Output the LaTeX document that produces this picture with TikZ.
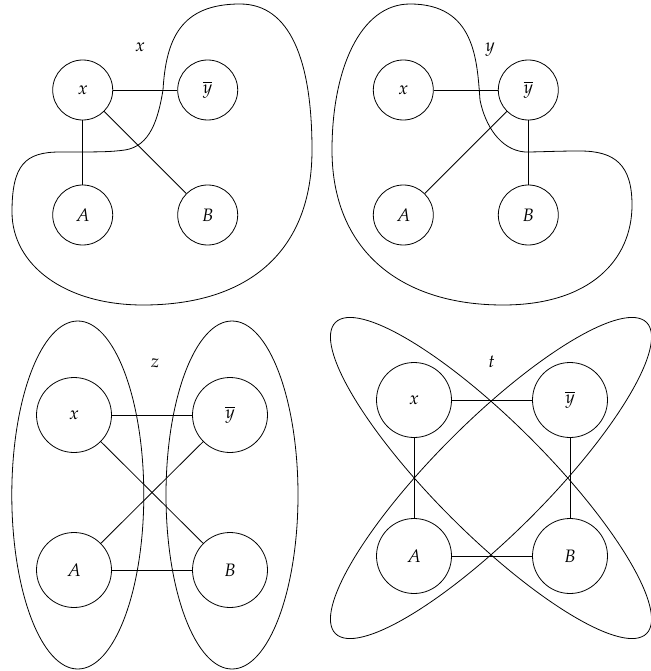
\documentclass[tikz,border=0pt]{standalone}
\usepackage{mathpazo}
\usetikzlibrary{calc}
\begin{document}
\begin{tikzpicture}[x=1pt,y=-1pt,
  vert/.style={circle,draw,line width=0.8pt,minimum size=60pt,inner sep=0pt,font=\fontsize{18}{22}\selectfont},
  bigvert/.style={vert,minimum size=75pt},
  lbl/.style={font=\fontsize{18}{22}\selectfont,inner sep=0pt},
  edge/.style={line width=0.8pt},
  blob/.style={line width=0.8pt}]
\useasboundingbox (0,0) rectangle (650,671);

% ---------- panel 1 ----------
\node[vert] (x1) at (82.7,90) {$x$};
\node[vert] (y1) at (207.7,90) {$\overline{y}$};
\node[vert] (a1) at (82.7,215) {$A$};
\node[vert] (b1) at (207.7,215) {$B$};
\node[lbl] (l1) at (140,47.7) {$x$};
\draw[edge] (x1) -- (y1);
\draw[edge] (x1) -- (a1);
\draw[edge] (x1) -- (b1);
\draw[blob] (240,4) .. controls (290,4) and (312,60) .. (312,150)
  .. controls (312,250) and (250,305) .. (143,305)
  .. controls (65,305) and (12,265) .. (12,212)
  .. controls (12,165) and (25,152) .. (60,152)
  .. controls (100,152) and (110,152) .. (125,150)
  .. controls (150,146) and (158,120) .. (163,90)
  .. controls (166,40) and (180,4) .. (240,4) -- cycle;

% ---------- panel 2 ----------
\node[vert] (x2) at (403.3,90) {$x$};
\node[vert] (y2) at (528.3,90) {$\overline{y}$};
\node[vert] (a2) at (403.3,215) {$A$};
\node[vert] (b2) at (528.3,215) {$B$};
\node[lbl] (l2) at (490,50) {$y$};
\draw[edge] (x2) -- (y2);
\draw[edge] (y2) -- (a2);
\draw[edge] (y2) -- (b2);
\draw[blob] (410,4) .. controls (360,4) and (332,70) .. (332,150)
  .. controls (332,250) and (400,305) .. (503,305)
  .. controls (590,305) and (632,260) .. (632,205)
  .. controls (632,165) and (615,151) .. (580,151)
  .. controls (555,151) and (540,152) .. (525,152)
  .. controls (500,150) and (485,125) .. (480,100)
  .. controls (477,60) and (475,4) .. (410,4) -- cycle;

% ---------- panel 3 ----------
\draw[blob] (77.8,495) ellipse [x radius=66, y radius=174];
\draw[blob] (232,495) ellipse [x radius=66, y radius=174];
\node[bigvert] (x3) at (74,415) {$x$};
\node[bigvert] (y3) at (230,415) {$\overline{y}$};
\node[bigvert] (a3) at (74,570) {$A$};
\node[bigvert] (b3) at (230,570) {$B$};
\node[lbl] (l3) at (155,363) {$z$};
\draw[edge] (x3) -- (y3);
\draw[edge] (x3) -- (b3);
\draw[edge] (a3) -- (y3);
\draw[edge] (a3) -- (b3);

% ---------- panel 4 ----------
\draw[blob] (491,478) ellipse [x radius=220, y radius=56, rotate=45];
\draw[blob] (491,478) ellipse [x radius=220, y radius=56, rotate=-45];
\node[bigvert] (x4) at (414,400) {$x$};
\node[bigvert] (y4) at (570,400) {$\overline{y}$};
\node[bigvert] (a4) at (414,556) {$A$};
\node[bigvert] (b4) at (570,556) {$B$};
\node[lbl] (l4) at (491.7,361.7) {$t$};
\draw[edge] (x4) -- (y4);
\draw[edge] (x4) -- (a4);
\draw[edge] (y4) -- (b4);
\draw[edge] (a4) -- (b4);
\end{tikzpicture}
\end{document}
